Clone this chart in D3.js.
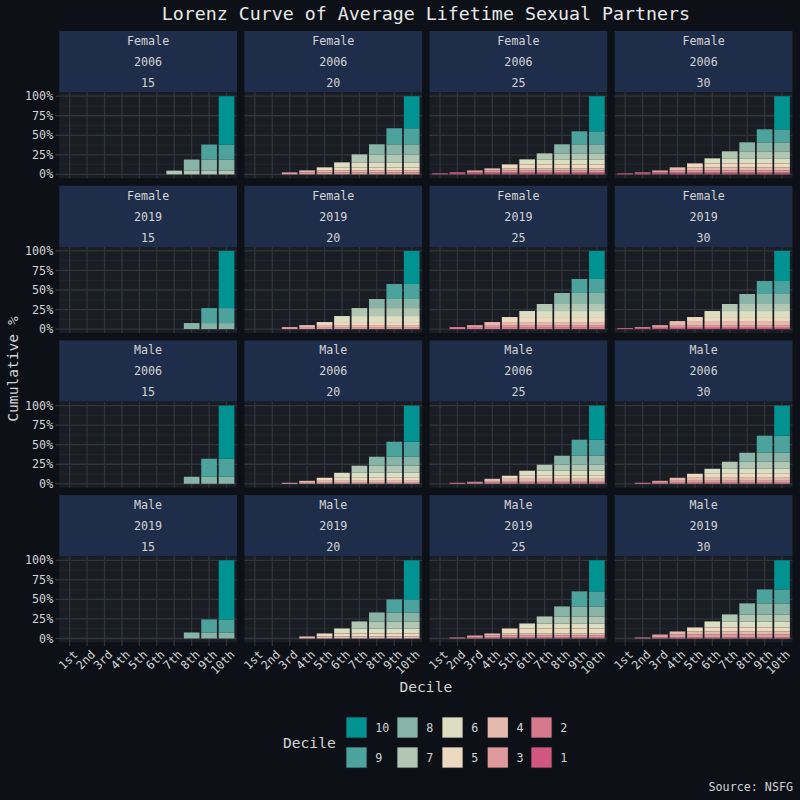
<!DOCTYPE html>
<html><head><meta charset="utf-8">
<script src="https://cdn.jsdelivr.net/npm/d3@7"></script>
<style>html,body{margin:0;padding:0;background:#0d1117;}svg{display:block;}</style>
</head><body>
<script>
// ---------------- data ----------------
const decileLabels = ["1st","2nd","3rd","4th","5th","6th","7th","8th","9th","10th"];
const sexes = ["Female","Male"];
const years = ["2006","2019"];
const ages = ["15","20","25","30"];
// cumulative share (%) of partners held by deciles 1..k, one row per age group
const female2006 = [
  [0,0,0,0,0,0,4.8,19.0,38.2,100],
  [0,0,2.6,5.1,9.0,15.4,25.6,38.5,59.0,100],
  [1.3,2.6,5.1,7.7,12.8,19.2,26.9,38.5,55.1,100],
  [1.3,2.6,5.1,9.0,14.1,20.5,29.5,41.0,57.7,100]
];
const female2019 = [
  [0,0,0,0,0,0,0,7.7,26.9,100],
  [0,0,2.6,5.1,9.0,16.7,26.9,38.5,57.7,100],
  [0,2.6,5.1,9.0,15.4,23.1,32.1,46.2,64.1,100],
  [1.3,2.6,5.1,10.3,15.4,23.1,32.1,44.9,61.5,100]
];
const male2006 = [
  [0,0,0,0,0,0,0,9.0,32.1,100],
  [0,0,1.3,3.8,7.7,14.1,23.1,34.6,53.8,100],
  [0,1.3,2.6,6.4,10.3,16.7,24.4,35.9,56.4,100],
  [0,1.3,3.8,7.7,12.8,19.2,28.2,39.7,61.5,100]
];
const male2019 = [
  [0,0,0,0,0,0,0,7.7,24.4,100],
  [0,0,0,2.6,6.4,12.8,21.8,33.3,50.0,100],
  [0,1.3,3.8,6.4,12.8,19.2,28.2,41.0,60.3,100],
  [0,1.3,5.1,9.0,14.1,21.8,30.8,44.9,62.8,100]
];
const decileNames = ["1","2","3","4","5","6","7","8","9","10"];
const decileColors = ["#d0587e","#d6798d","#dd999c","#e5b9ad","#edd9bf","#dcdec1","#b1c7b3","#87b4a7","#4ca29c","#009392"];
const yTicks = [0,25,50,75,100];
const yMinor = [12.5,37.5,62.5,87.5];

const panelRows = [
  {sex:"Female", year:"2006", data:female2006},
  {sex:"Female", year:"2019", data:female2019},
  {sex:"Male", year:"2006", data:male2006},
  {sex:"Male", year:"2019", data:male2019}
];

// ---------------- layout ----------------
const W = 800, H = 800;
const FONT = "'DejaVu Sans Mono', 'Liberation Mono', monospace";
const BG = "#0d1117", PANEL = "#1a1d23", STRIP = "#1e2d4a", GRID = "#31353c", GRIDMINOR = "#24282e";
const TXT = "#d4d4d4";
const gLeft = 59.2, gRight = 792.5, gTop = 31, stripH = 61.3, plotH = 86, gap = 7.4;
const pw = (gRight - gLeft - 3*gap)/4;

const svg = d3.select("body").append("svg").attr("width", W).attr("height", H);
svg.append("rect").attr("width", W).attr("height", H).attr("fill", BG);

svg.append("text").attr("x", (gLeft+gRight)/2).attr("y", 20).attr("text-anchor","middle")
  .attr("font-family", FONT).attr("font-size", 18.3).attr("fill", "#e8e8e8")
  .text("Lorenz Curve of Average Lifetime Sexual Partners");

const color = d3.scaleOrdinal().domain(decileNames).range(decileColors);

panelRows.forEach((row, ri) => {
  ages.forEach((age, ci) => {
    const x0 = gLeft + ci*(pw+gap);
    const sy = gTop + ri*(stripH+plotH+gap);
    const py = sy + stripH;
    const g = svg.append("g");
    // strip
    g.append("rect").attr("x", x0).attr("y", sy).attr("width", pw).attr("height", stripH).attr("fill", STRIP);
    [row.sex, row.year, age].forEach((t, i) => {
      g.append("text").attr("x", x0 + pw/2).attr("y", sy + 10 + i*21).attr("dy","0.35em")
        .attr("text-anchor","middle").attr("font-family", FONT).attr("font-size", 11.7)
        .attr("fill", TXT).text(t);
    });
    // panel
    g.append("rect").attr("x", x0).attr("y", py).attr("width", pw).attr("height", plotH).attr("fill", PANEL);
    const x = d3.scaleBand().domain(decileLabels).range([x0, x0+pw]).paddingInner(0.1).paddingOuter(0.15);
    const xc = d => x(d) + x.bandwidth()/2;
    const y = d3.scaleLinear().domain([-5, 105]).range([py+plotH, py]);
    yMinor.forEach(v => g.append("line").attr("x1", x0).attr("x2", x0+pw).attr("y1", y(v)).attr("y2", y(v))
      .attr("stroke", GRIDMINOR).attr("stroke-width", 0.7));
    yTicks.forEach(v => g.append("line").attr("x1", x0).attr("x2", x0+pw).attr("y1", y(v)).attr("y2", y(v))
      .attr("stroke", GRID).attr("stroke-width", 1.3));
    decileLabels.forEach(d => g.append("line").attr("x1", xc(d)).attr("x2", xc(d)).attr("y1", py).attr("y2", py+plotH)
      .attr("stroke", GRID).attr("stroke-width", 1.3));
    // stacked cumulative bars
    const cum = row.data[ci];
    decileLabels.forEach((d, k) => {
      for (let j = 0; j <= k; j++) {
        const lo = j === 0 ? 0 : cum[j-1], hi = cum[j];
        if (hi - lo <= 0) continue;
        g.append("rect").attr("x", x(d)).attr("width", x.bandwidth())
          .attr("y", y(hi)).attr("height", y(lo) - y(hi)).attr("fill", color(decileNames[j]));
      }
    });
    // y axis on first column
    if (ci === 0) {
      yTicks.forEach(v => {
        g.append("line").attr("x1", x0-3.7).attr("x2", x0).attr("y1", y(v)).attr("y2", y(v)).attr("stroke", GRID).attr("stroke-width", 1.3);
        g.append("text").attr("x", x0-6).attr("y", y(v)).attr("dy","0.35em").attr("text-anchor","end")
          .attr("font-family", FONT).attr("font-size", 11.7).attr("fill", TXT).text(v + "%");
      });
    }
    // x axis on bottom row
    if (ri === panelRows.length-1) {
      decileLabels.forEach(d => {
        g.append("line").attr("x1", xc(d)).attr("x2", xc(d)).attr("y1", py+plotH).attr("y2", py+plotH+3.7).attr("stroke", GRID).attr("stroke-width", 1.3);
        g.append("text").attr("transform", `translate(${xc(d)+3},${py+plotH+7}) rotate(-45)`)
          .attr("text-anchor","end").attr("dy","0.7em")
          .attr("font-family", FONT).attr("font-size", 11.7).attr("fill", TXT).text(d);
      });
    }
  });
});

// axis titles
svg.append("text").attr("x", (gLeft+gRight)/2).attr("y", 687).attr("dy","0.35em").attr("text-anchor","middle")
  .attr("font-family", FONT).attr("font-size", 14.6).attr("fill", TXT).text("Decile");
svg.append("text").attr("transform", "translate(13,369) rotate(-90)").attr("dy","0.35em").attr("text-anchor","middle")
  .attr("font-family", FONT).attr("font-size", 14.6).attr("fill", TXT).text("Cumulative %");

// legend
const legX = 345.7, legY = 716.7, key = 21.6, colStep = [0, 51, 96, 141.3, 185];
svg.append("text").attr("x", 283).attr("y", 743).attr("dy","0.35em").attr("font-family", FONT)
  .attr("font-size", 14.6).attr("fill", TXT).text("Decile");
const legendOrder = decileNames.slice().reverse();
legendOrder.forEach((d, i) => {
  const col = Math.floor(i/2), r = i % 2;
  const kx = legX + colStep[col], ky = legY + r*30;
  svg.append("rect").attr("x", kx).attr("y", ky).attr("width", key).attr("height", key).attr("fill", PANEL);
  svg.append("rect").attr("x", kx+0.7).attr("y", ky+0.7).attr("width", key-1.4).attr("height", key-1.4).attr("fill", color(d));
  svg.append("text").attr("x", kx + key + 8).attr("y", ky + key/2).attr("dy","0.35em")
    .attr("font-family", FONT).attr("font-size", 11.7).attr("fill", TXT).text(d);
});

svg.append("text").attr("x", 793).attr("y", 787).attr("dy","0.35em").attr("text-anchor","end")
  .attr("font-family", FONT).attr("font-size", 11.7).attr("fill", TXT).text("Source: NSFG");
</script>
</body></html>
